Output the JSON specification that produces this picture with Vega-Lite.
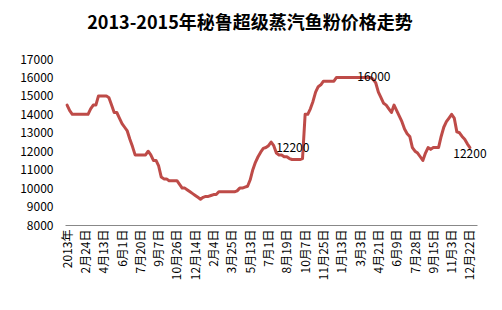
{
  "$schema": "https://vega.github.io/schema/vega-lite/v6.json",
  "width": 412,
  "height": 166,
  "autosize": {"type": "none"},
  "padding": {"left": 65, "top": 59, "right": 25, "bottom": 85},
  "background": "white",
  "title": {
    "text": "2013-2015年秘鲁超级蒸汽鱼粉价格走势",
    "font": "Noto Sans CJK SC",
    "fontSize": 18,
    "fontWeight": "bold",
    "color": "#000000",
    "anchor": "middle",
    "frame": "group",
    "dx": -21,
    "offset": 20
  },
  "config": {"view": {"stroke": null}},
  "datasets": {
    "price": [
      {"i":0,"v":14500},{"i":1,"v":14200},{"i":2,"v":14000},{"i":3,"v":14000},{"i":4,"v":14000},
      {"i":5,"v":14000},{"i":6,"v":14000},{"i":7,"v":14000},{"i":8,"v":14000},{"i":9,"v":14300},
      {"i":10,"v":14500},{"i":11,"v":14500},{"i":12,"v":15000},{"i":13,"v":15000},{"i":14,"v":15000},
      {"i":15,"v":15000},{"i":16,"v":14900},{"i":17,"v":14500},{"i":18,"v":14100},{"i":19,"v":14100},
      {"i":20,"v":13800},{"i":21,"v":13500},{"i":22,"v":13300},{"i":23,"v":13100},{"i":24,"v":12650},
      {"i":25,"v":12250},{"i":26,"v":11800},{"i":27,"v":11800},{"i":28,"v":11800},{"i":29,"v":11800},
      {"i":30,"v":11800},{"i":31,"v":12000},{"i":32,"v":11800},{"i":33,"v":11500},{"i":34,"v":11500},
      {"i":35,"v":11200},{"i":36,"v":10600},{"i":37,"v":10500},{"i":38,"v":10500},{"i":39,"v":10400},
      {"i":40,"v":10400},{"i":41,"v":10400},{"i":42,"v":10400},{"i":43,"v":10200},{"i":44,"v":10000},
      {"i":45,"v":10000},{"i":46,"v":9900},{"i":47,"v":9800},{"i":48,"v":9700},{"i":49,"v":9600},
      {"i":50,"v":9500},{"i":51,"v":9400},{"i":52,"v":9500},{"i":53,"v":9550},{"i":54,"v":9550},
      {"i":55,"v":9600},{"i":56,"v":9650},{"i":57,"v":9650},{"i":58,"v":9800},{"i":59,"v":9800},
      {"i":60,"v":9800},{"i":61,"v":9800},{"i":62,"v":9800},{"i":63,"v":9800},{"i":64,"v":9800},
      {"i":65,"v":9850},{"i":66,"v":10000},{"i":67,"v":10000},{"i":68,"v":10050},{"i":69,"v":10100},
      {"i":70,"v":10450},{"i":71,"v":11000},{"i":72,"v":11400},{"i":73,"v":11700},{"i":74,"v":11950},
      {"i":75,"v":12150},{"i":76,"v":12200},{"i":77,"v":12300},{"i":78,"v":12500},{"i":79,"v":12300},
      {"i":80,"v":11900},{"i":81,"v":11800},{"i":82,"v":11800},{"i":83,"v":11700},{"i":84,"v":11700},
      {"i":85,"v":11600},{"i":86,"v":11550},{"i":87,"v":11550},{"i":88,"v":11550},{"i":89,"v":11550},
      {"i":90,"v":11600},{"i":91,"v":14000},{"i":92,"v":14000},{"i":93,"v":14300},{"i":94,"v":14700},
      {"i":95,"v":15200},{"i":96,"v":15500},{"i":97,"v":15600},{"i":98,"v":15800},{"i":99,"v":15800},
      {"i":100,"v":15800},{"i":101,"v":15800},{"i":102,"v":15800},{"i":103,"v":16000},{"i":104,"v":16000},
      {"i":105,"v":16000},{"i":106,"v":16000},{"i":107,"v":16000},{"i":108,"v":16000},{"i":109,"v":16000},
      {"i":110,"v":16000},{"i":111,"v":16000},{"i":112,"v":16000},{"i":113,"v":16000},{"i":114,"v":16000},
      {"i":115,"v":16000},{"i":116,"v":16000},{"i":117,"v":15900},{"i":118,"v":15700},{"i":119,"v":15200},
      {"i":120,"v":14900},{"i":121,"v":14600},{"i":122,"v":14500},{"i":123,"v":14300},{"i":124,"v":14100},
      {"i":125,"v":14500},{"i":126,"v":14200},{"i":127,"v":13900},{"i":128,"v":13600},{"i":129,"v":13200},
      {"i":130,"v":12950},{"i":131,"v":12800},{"i":132,"v":12200},{"i":133,"v":12000},{"i":134,"v":11900},
      {"i":135,"v":11700},{"i":136,"v":11500},{"i":137,"v":11900},{"i":138,"v":12200},{"i":139,"v":12100},
      {"i":140,"v":12200},{"i":141,"v":12200},{"i":142,"v":12200},{"i":143,"v":12800},{"i":144,"v":13300},
      {"i":145,"v":13600},{"i":146,"v":13800},{"i":147,"v":14000},{"i":148,"v":13800},{"i":149,"v":13050},
      {"i":150,"v":13000},{"i":151,"v":12800},{"i":152,"v":12650},{"i":153,"v":12400},{"i":154,"v":12200}
    ],
    "labelRight": [{"i":109,"v":16000},{"i":78,"v":12200}],
    "labelEnd": [{"i":154,"v":12200}]
  },
  "encoding": {
    "x": {
      "field": "i",
      "type": "quantitative",
      "scale": {"domain": [-0.8, 156.7], "nice": false, "zero": false},
      "axis": {
        "values": [0,7,14,21,28,35,42,49,56,63,70,77,84,91,98,105,112,119,126,133,140,147,154],
        "labelExpr": "['2013年','2月24日','4月13日','6月1日','7月20日','9月7日','10月26日','12月14日','2月4日','3月25日','5月13日','7月1日','8月19日','10月7日','11月25日','1月13日','3月3日','4月21日','6月9日','7月28日','9月15日','11月3日','12月22日'][round(datum.value/7)]",
        "labelAngle": -90,
        "labelAlign": "right",
        "labelBaseline": "middle",
        "labelFont": "Noto Sans CJK SC",
        "labelFontSize": 12,
        "labelColor": "#000000",
        "labelPadding": 4,
        "labelOverlap": false,
        "labelBound": false,
        "labelFlush": false,
        "ticks": false,
        "grid": false,
        "domainColor": "#888888",
        "domainWidth": 1,
        "title": null
      }
    },
    "y": {
      "field": "v",
      "type": "quantitative",
      "scale": {"domain": [8000, 17000], "nice": false, "zero": false},
      "axis": {
        "values": [8000,9000,10000,11000,12000,13000,14000,15000,16000,17000],
        "format": "d",
        "labelFont": "Noto Sans CJK SC",
        "labelFontSize": 12,
        "labelColor": "#000000",
        "labelPadding": 12,
        "labelOverlap": false,
        "labelFlush": false,
        "domain": false,
        "ticks": false,
        "grid": false,
        "title": null
      }
    }
  },
  "layer": [
    {
      "data": {"name": "price"},
      "mark": {"type": "line", "color": "#be4b48", "strokeWidth": 3, "strokeJoin": "round", "strokeCap": "round"}
    },
    {
      "data": {"name": "labelRight"},
      "mark": {"type": "text", "align": "left", "baseline": "middle", "dx": 5, "font": "Noto Sans CJK SC", "fontSize": 12, "color": "#000000"},
      "encoding": {
        "text": {"field": "v", "type": "quantitative", "format": "d"}
      }
    },
    {
      "data": {"name": "labelEnd"},
      "mark": {"type": "text", "align": "center", "baseline": "top", "dy": 1, "font": "Noto Sans CJK SC", "fontSize": 12, "color": "#000000"},
      "encoding": {
        "text": {"field": "v", "type": "quantitative", "format": "d"}
      }
    }
  ]
}
